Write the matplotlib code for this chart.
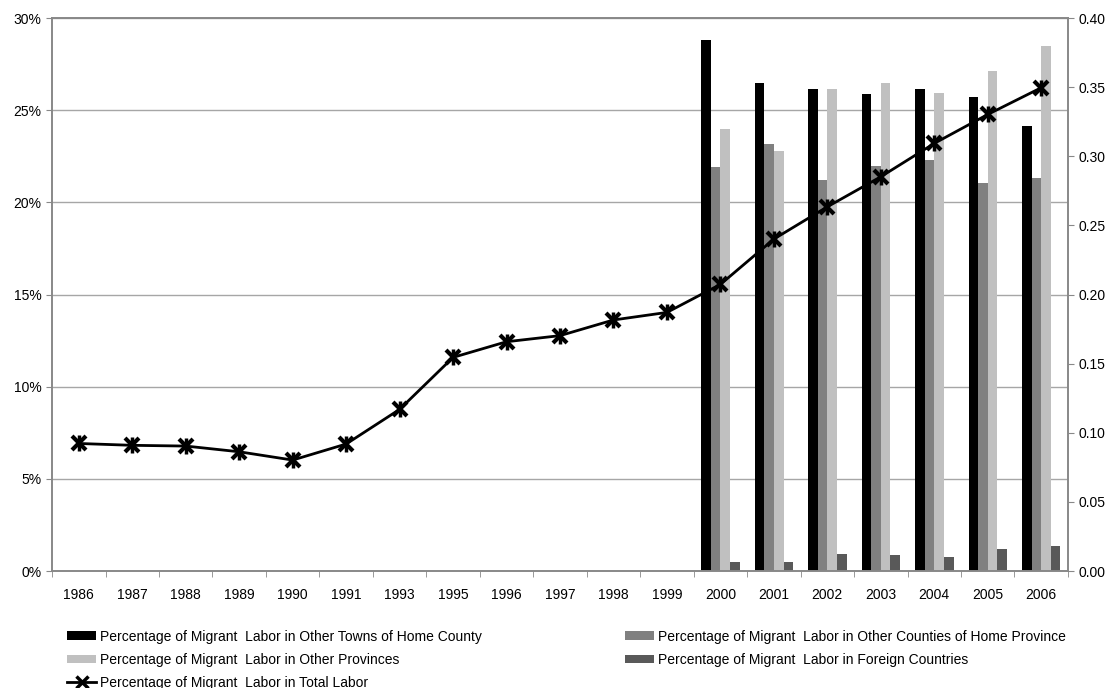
import numpy as np
import matplotlib.pyplot as plt
from matplotlib.patches import Patch
from matplotlib.lines import Line2D

plt.rcParams['font.family'] = ['Liberation Sans', 'DejaVu Sans']

years = ["1986", "1987", "1988", "1989", "1990", "1991", "1993", "1995", "1996", "1997",
         "1998", "1999", "2000", "2001", "2002", "2003", "2004", "2005", "2006"]

# share of migrant labor in total labor (%), left axis
total_share = [6.92, 6.82, 6.78, 6.47, 6.02, 6.89, 8.77, 11.59, 12.44, 12.77,
               13.62, 14.03, 15.55, 18.01, 19.76, 21.39, 23.20, 24.77, 26.22]

# destination shares, 2000-2006, right axis
bar_years = ["2000", "2001", "2002", "2003", "2004", "2005", "2006"]
home_county = [0.384, 0.353, 0.349, 0.345, 0.349, 0.343, 0.322]
home_province = [0.292, 0.309, 0.283, 0.293, 0.297, 0.281, 0.284]
other_provinces = [0.320, 0.304, 0.349, 0.353, 0.346, 0.362, 0.380]
foreign = [0.0065, 0.0065, 0.0123, 0.0116, 0.0101, 0.0159, 0.0180]

labels = [
    "Percentage of Migrant  Labor in Other Towns of Home County",
    "Percentage of Migrant  Labor in Other Counties of Home Province",
    "Percentage of Migrant  Labor in Other Provinces",
    "Percentage of Migrant  Labor in Foreign Countries",
    "Percentage of Migrant  Labor in Total Labor",
]
colors = ["#000000", "#808080", "#c0c0c0", "#595959"]
grid_color = "#a6a6a6"

fig = plt.figure(figsize=(11.12, 6.88), dpi=100)
ax = fig.add_axes([0.0468, 0.170, 0.9136, 0.8038])
ax2 = ax.twinx()

x = np.arange(len(years))
bx = np.array([years.index(y) for y in bar_years])
w = 0.18
for i, vals in enumerate([home_county, home_province, other_provinces, foreign]):
    ax2.bar(bx + (i - 1.5) * w, vals, width=w, color=colors[i], zorder=2)

# line on the left axis, drawn above the bars
ax.set_zorder(ax2.get_zorder() + 1)
ax.patch.set_visible(False)
ax.plot(x, total_share, color="black", lw=2, zorder=5)
ax.plot(x, total_share, ls="none", marker="x", ms=10, mew=3, color="black", zorder=6)
ax.plot(x, total_share, ls="none", marker="|", ms=11, mew=2.5, color="black", zorder=6)

ax.set_xlim(-0.5, len(years) - 0.5)
ax.set_ylim(0, 30)
ax2.set_ylim(0, 0.40)
ax.set_yticks(np.arange(0, 31, 5))
ax.set_yticklabels([f"{v}%" for v in range(0, 31, 5)])
ax2.set_yticks(np.arange(0, 0.41, 0.05))
ax2.set_yticklabels([f"{v:.2f}" for v in np.arange(0, 0.41, 0.05)])

ax.set_xticks(x)
ax.set_xticklabels(years)
ax.set_xticks(np.arange(-0.5, len(years), 1), minor=True)
ax.tick_params(axis="x", which="major", length=0, pad=12, labelsize=10)
ax.tick_params(axis="x", which="minor", length=4, color="#888888")
ax.tick_params(axis="y", length=4, color="#888888", labelsize=10)
ax2.tick_params(axis="y", length=4, color="#888888", labelsize=10)

for a in (ax, ax2):
    for s in a.spines.values():
        s.set_color("#888888")
        s.set_linewidth(1.2)

# gridlines at the left-axis ticks, kept under the bars
for v in range(5, 31, 5):
    ax2.axhline(v / 30 * 0.40, color=grid_color, lw=1, zorder=0)

h_bars = [Patch(facecolor=c) for c in colors]
h_line = Line2D([], [], color="black", lw=2, marker="x", ms=8, mew=2.5)
leg_kw = dict(frameon=False, fontsize=10, handlelength=2.1, handleheight=0.55,
              handletextpad=0.25, labelspacing=0.65, borderaxespad=0)
fig.legend([h_bars[0], h_bars[2], h_line], [labels[0], labels[2], labels[4]],
           loc="upper left", bbox_to_anchor=(0.0552, 0.093), **leg_kw)
fig.legend([h_bars[1], h_bars[3]], [labels[1], labels[3]],
           loc="upper left", bbox_to_anchor=(0.557, 0.093), **leg_kw)

fig.savefig("out.png", dpi=100)
